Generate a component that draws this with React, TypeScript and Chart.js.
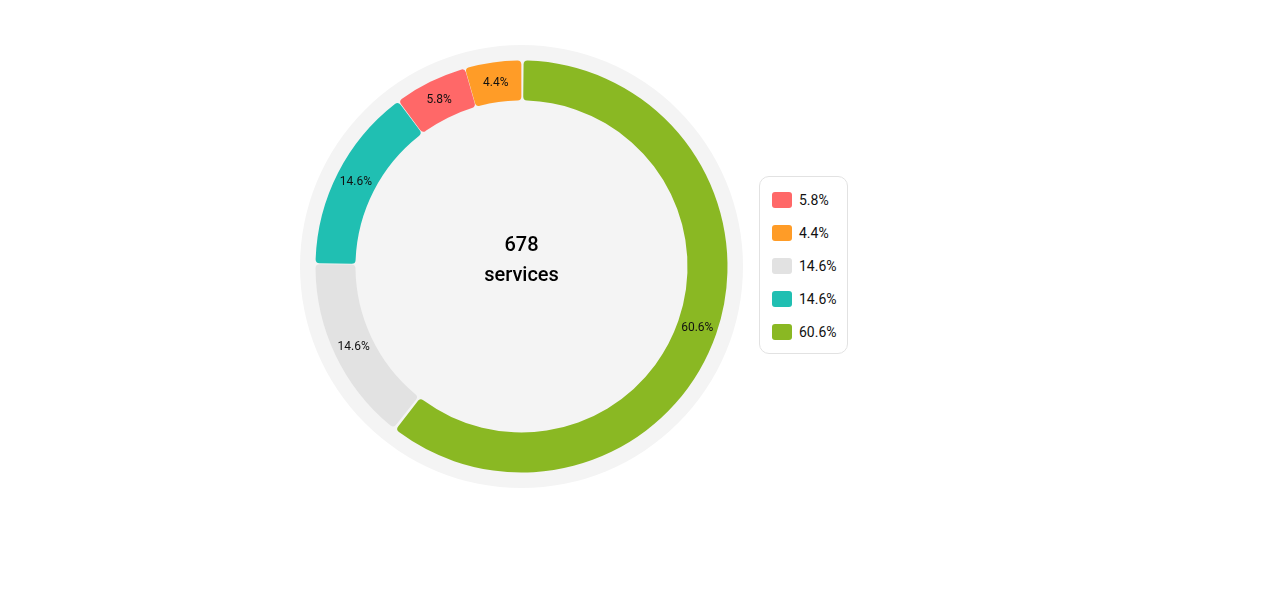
import React, { useEffect, useRef } from "react";
import { Chart, registerables } from "chart.js";

Chart.register(...registerables);

// Segments in drawing order (clockwise from 12 o'clock)
const drawKeys = ["green", "grey", "teal", "red", "orange"];
const drawValues = [411, 99, 99, 39, 30];
const drawColors = ["#8ab823", "#e2e2e2", "#20bfb2", "#ff6868", "#ff9c27"];

// Legend order
const legendKeys = ["red", "orange", "grey", "teal", "green"];

const totalLabel = "678";
const unitLabel = "services";

const FONT = "Roboto, 'Noto Sans', sans-serif";

const total = drawValues.reduce((a, b) => a + b, 0);
const pct = (v: number) => ((v / total) * 100).toFixed(1) + "%";

const centerPlugin = {
  id: "centerDecor",
  beforeDatasetsDraw(chart: any) {
    const meta = chart.getDatasetMeta(0);
    const arc = meta.data[0];
    if (!arc) return;
    const { x, y } = arc;
    const ctx = chart.ctx;
    ctx.save();
    ctx.beginPath();
    ctx.arc(x, y, 221.5, 0, Math.PI * 2);
    ctx.fillStyle = "#f4f4f4";
    ctx.fill();
    ctx.restore();
  },
  afterDatasetsDraw(chart: any) {
    const meta = chart.getDatasetMeta(0);
    const ctx = chart.ctx;
    ctx.save();
    ctx.textAlign = "center";
    ctx.textBaseline = "middle";
    ctx.fillStyle = "#111";
    ctx.font = `400 12px ${FONT}`;
    meta.data.forEach((el: any, i: number) => {
      const p = el.tooltipPosition();
      ctx.fillText(pct(drawValues[i]), p.x, p.y + 0.5);
    });
    const c = meta.data[0];
    ctx.fillStyle = "#000";
    ctx.font = `500 20px ${FONT}`;
    ctx.fillText(totalLabel, c.x, c.y - 21);
    ctx.fillText(unitLabel, c.x, c.y + 9);
    ctx.restore();
  },
};

export default function App() {
  const ref = useRef<HTMLCanvasElement | null>(null);
  useEffect(() => {
    if (!ref.current) return;
    const chart = new Chart(ref.current, {
      type: "doughnut",
      data: {
        labels: drawKeys,
        datasets: [
          {
            data: drawValues,
            backgroundColor: drawColors,
            borderWidth: 0,
            borderRadius: 4,
            spacing: 2,
          },
        ],
      },
      options: {
        responsive: false,
        animation: false,
        radius: 205,
        cutout: "80.5%",
        spacing: 2,
        layout: { padding: { left: 306, top: 51, right: 543, bottom: 108 } },
        plugins: { legend: { display: false }, tooltip: { enabled: false } },
      } as any,
      plugins: [centerPlugin],
    });
    return () => chart.destroy();
  }, []);

  return (
    <div style={{ position: "relative", width: 1264, height: 574, fontFamily: FONT }}>
      <canvas ref={ref} width={1264} height={574} style={{ position: "absolute", left: 0, top: 0 }} />
      <div
        style={{
          position: "absolute",
          left: 751,
          top: 168,
          width: 87,
          height: 176,
          border: "1px solid #e2e2e2",
          borderRadius: 10,
          background: "#fff",
          boxSizing: "content-box",
        }}
      >
        {legendKeys.map((k, i) => {
          const idx = drawKeys.indexOf(k);
          return (
            <div
              key={k}
              style={{
                position: "absolute",
                left: 12,
                top: 15 + i * 33,
                height: 16,
                display: "flex",
                alignItems: "center",
              }}
            >
              <span
                style={{
                  display: "inline-block",
                  width: 20,
                  height: 16,
                  borderRadius: 3,
                  background: drawColors[idx],
                }}
              />
              <span style={{ marginLeft: 7, fontSize: 14, color: "#111", lineHeight: "16px" }}>
                {pct(drawValues[idx])}
              </span>
            </div>
          );
        })}
      </div>
    </div>
  );
}
